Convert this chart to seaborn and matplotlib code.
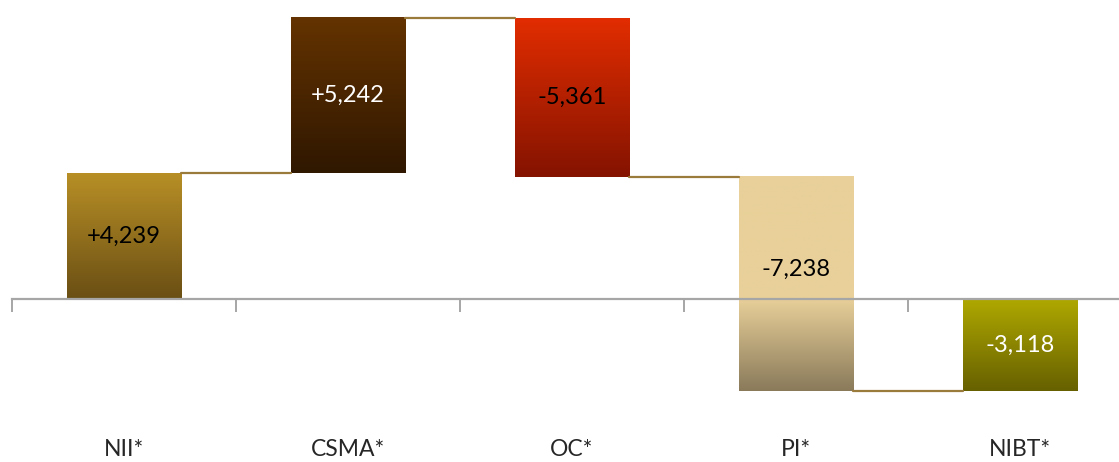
import numpy as np
import matplotlib
matplotlib.use('Agg')
import matplotlib.pyplot as plt
import matplotlib.colors as mcolors
import seaborn as sns

# Datos del grafico de cascada
categories = ['NII*', 'CSMA*', 'OC*', 'PI*', 'NIBT*']
changes = [4239, 5242, -5361, -7238]
total = -3118
value_labels = ['+4,239', '+5,242', '-5,361', '-7,238', '-3,118']

# colores (arriba, abajo) de cada barra
grad_colors = [('#b88f26', '#6a4f14'),
               ('#643300', '#2f1700'),
               ('#e22d00', '#841300'),
               ('#e9d09a', '#8a7a5a'),
               ('#b0a900', '#666000')]
text_colors = ['black', 'white', 'black', 'black', 'white']

sns.set_style('white')
plt.rcParams['font.family'] = ['Lato', 'DejaVu Sans']

# inicio y fin de cada barra
ends = list(np.cumsum(changes)) + [total]
starts = [0] + list(np.cumsum(changes)[:-1]) + [0]

fig = plt.figure(figsize=(11.19, 4.62), dpi=100)
ax = fig.add_axes([12 / 1119, 42 / 462, 1120 / 1119, 420 / 462])

sns.barplot(x=categories, y=ends, color='white', width=0.513, ax=ax)


def gradient(c_top, c_bot):
    a = np.array(mcolors.to_rgb(c_top))
    b = np.array(mcolors.to_rgb(c_bot))
    t = np.linspace(0, 1, 256)[:, None]
    return (a * (1 - t) + b * t)[:, None, :]


for i, p in enumerate(ax.patches):
    lo, hi = min(starts[i], ends[i]), max(starts[i], ends[i])
    p.set_y(lo)
    p.set_height(hi - lo)
    p.set_facecolor('none')
    p.set_edgecolor('none')
    x0, x1 = p.get_x(), p.get_x() + p.get_width()
    c_top, c_bot = grad_colors[i]
    if lo < 0 < hi:
        # parte positiva plana, parte negativa con degradado
        ax.imshow(gradient(c_top, c_top), extent=[x0, x1, 0, hi],
                  aspect='auto', zorder=1)
        ax.imshow(gradient(c_top, c_bot), extent=[x0, x1, lo, 0],
                  aspect='auto', interpolation='bilinear', zorder=1)
    else:
        ax.imshow(gradient(c_top, c_bot), extent=[x0, x1, lo, hi],
                  aspect='auto', interpolation='bilinear', zorder=1)
    ymid = (lo + hi) / 2
    if lo < 0 < hi:
        ymid = hi * 0.24
    ax.text((x0 + x1) / 2, ymid, value_labels[i], ha='center', va='center',
            fontsize=17, color=text_colors[i], zorder=3)

# lineas conectoras
bars = ax.patches
for i in range(len(bars) - 1):
    xa = bars[i].get_x() + bars[i].get_width()
    xb = bars[i + 1].get_x()
    ax.plot([xa, xb], [ends[i], ends[i]], color='#9b7b3c', lw=1.6, zorder=2)

ax.set_xlim(-0.5, 4.5)
ax.set_ylim(-4082, 10088)

for s in ['top', 'right', 'left']:
    ax.spines[s].set_visible(False)
ax.spines['bottom'].set_position(('data', 0))
ax.spines['bottom'].set_color('#a6a6a6')
ax.spines['bottom'].set_linewidth(1.6)
ax.spines['bottom'].set_zorder(2.5)

ax.set_yticks([])
ax.set_xticks(range(len(categories)))
ax.set_xticklabels(categories, fontsize=16.5)
ax.set_xticks(np.arange(-0.5, len(categories)), minor=True)
ax.tick_params(axis='x', which='major', bottom=True, length=0, pad=101)
ax.tick_params(axis='x', which='minor', bottom=True, length=9, width=1.4,
               color='#a6a6a6')
ax.set_xlabel('')
ax.set_ylabel('')

plt.savefig('out.png', dpi=100)
plt.close()
